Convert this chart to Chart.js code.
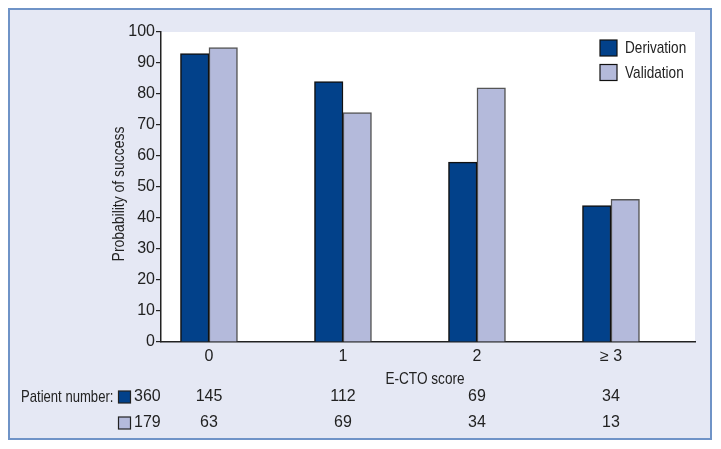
<!DOCTYPE html>
<html>
<head>
<meta charset="utf-8">
<title>E-CTO score</title>
<script src="https://cdn.jsdelivr.net/npm/chart.js@4.4.1/dist/chart.umd.min.js"></script>
<style>
    html, body { margin: 0; padding: 0; background: #fff; }
    #wrap { width: 721px; height: 449px; }
</style>
</head>
<body>
<div id="wrap"><canvas id="chart" width="721" height="449"></canvas></div>
<script>
var categories   = ['0', '1', '2', '\u2265 3'];
var derivation   = [93, 84, 58, 44];
var validation   = [95, 74, 82, 46];
var derivationN  = [145, 112, 69, 34];
var validationN  = [63, 69, 34, 13];
var derivationTotal = 360;
var validationTotal = 179;
var yTicks = [0, 10, 20, 30, 40, 50, 60, 70, 80, 90, 100];

var FONT = "'Liberation Sans', Arial, sans-serif";
var TEXT = '#222';
var DARK = '#02418a';
var LIGHT = '#b4badb';

function points(values) {
    return values.map(function (v, i) { return { x: i, y: v }; });
}

// the original uses a condensed face, so words are squeezed sideways
function label(c, str, x, y, align, sx, rot) {
    c.save();
    c.translate(x, y);
    if (rot) c.rotate(rot);
    c.scale(sx, 1);
    c.textAlign = align;
    c.fillText(str, 0, 0);
    c.restore();
}

var panelPlugin = {
    id: 'panel',
    beforeDraw: function (chart) {
        var c = chart.ctx, a = chart.chartArea;
        c.save();
        c.fillStyle = '#ffffff';
        c.fillRect(0, 0, chart.width, chart.height);
        c.fillStyle = '#e5e8f4';
        c.fillRect(9, 9, 702, 430);
        c.strokeStyle = '#6f93c7';
        c.lineWidth = 2;
        c.strokeRect(9, 9, 702, 430);
        c.fillStyle = '#ffffff';
        c.fillRect(a.left, a.top, a.right - a.left, a.bottom - a.top);
        c.restore();
    },
    afterDraw: function (chart) {
        var c = chart.ctx, x = chart.scales.x, a = chart.chartArea;
        var sets = chart.data.datasets;
        c.save();
        c.font = '17px ' + FONT;
        c.textBaseline = 'middle';
        c.fillStyle = TEXT;

        // axis titles
        label(c, 'E-CTO score', (a.left + a.right) / 2 - 3, 379, 'center', 0.8);
        label(c, 'Probability of success', 119, (a.top + a.bottom) / 2 + 7, 'center', 0.82, -Math.PI / 2);

        // legend
        c.lineWidth = 1.2;
        sets.forEach(function (ds, i) {
            var y = 40 + i * 24.5;
            c.fillStyle = ds.backgroundColor;
            c.strokeStyle = '#111';
            c.fillRect(600, y, 17, 16);
            c.strokeRect(600, y, 17, 16);
            c.fillStyle = TEXT;
            label(c, ds.label, 625, y + 8.5, 'left', 0.8);
        });

        // patient number table
        var rows = [
            { y: 397, color: DARK, total: derivationTotal, values: derivationN },
            { y: 423, color: LIGHT, total: validationTotal, values: validationN }
        ];
        c.fillStyle = TEXT;
        label(c, 'Patient number:', 21, rows[0].y, 'left', 0.77);
        c.font = '16px ' + FONT;
        rows.forEach(function (r) {
            c.fillStyle = r.color;
            c.strokeStyle = '#222';
            c.fillRect(118.5, r.y - 6, 12, 12);
            c.strokeRect(118.5, r.y - 6, 12, 12);
            c.fillStyle = TEXT;
            c.textAlign = 'left';
            c.fillText(String(r.total), 134, r.y);
            c.textAlign = 'center';
            r.values.forEach(function (v, i) {
                c.fillText(String(v), x.getPixelForValue(i), r.y);
            });
        });
        c.restore();
    }
};

new Chart(document.getElementById('chart'), {
    type: 'bar',
    data: {
        datasets: [
            {
                label: 'Derivation',
                data: points(derivation),
                backgroundColor: DARK,
                borderColor: '#111',
                borderWidth: 1.5,
                barThickness: 28.5,
            },
            {
                label: 'Validation',
                data: points(validation),
                backgroundColor: LIGHT,
                borderColor: '#555',
                borderWidth: 1.5,
                barThickness: 28.5,
            },
        ],
    },
    options: {
        responsive: false,
        animation: false,
        layout: { padding: { left: 109.5, top: 32, right: 26, bottom: 59 } },
        plugins: {
            legend: { display: false },
            tooltip: { enabled: false },
        },
        scales: {
            x: {
                type: 'linear',
                offset: false,
                min: -0.358,
                max: 3.627,
                afterBuildTicks: function (s) {
                    s.ticks = categories.map(function (c, i) { return { value: i }; });
                },
                afterFit: function (s) { s.height = 48; },
                ticks: {
                    color: TEXT,
                    font: { family: FONT, size: 16 },
                    padding: 5,
                    maxRotation: 0,
                    callback: function (v) { return categories[v]; },
                },
                grid: { display: false, drawTicks: false },
                border: { display: true, color: '#222', width: 1.5 },
            },
            y: {
                min: 0,
                max: 100,
                afterBuildTicks: function (s) {
                    s.ticks = yTicks.map(function (v) { return { value: v }; });
                },
                afterFit: function (s) { s.width = 51.5; },
                ticks: {
                    color: TEXT,
                    font: { family: FONT, size: 16 },
                    padding: 1,
                },
                grid: { drawOnChartArea: false, drawTicks: true, tickLength: 5, color: '#222', lineWidth: 1.2 },
                border: { display: true, color: '#222', width: 1.5 },
            },
        },
    },
    plugins: [panelPlugin],
});
</script>
</body>
</html>
